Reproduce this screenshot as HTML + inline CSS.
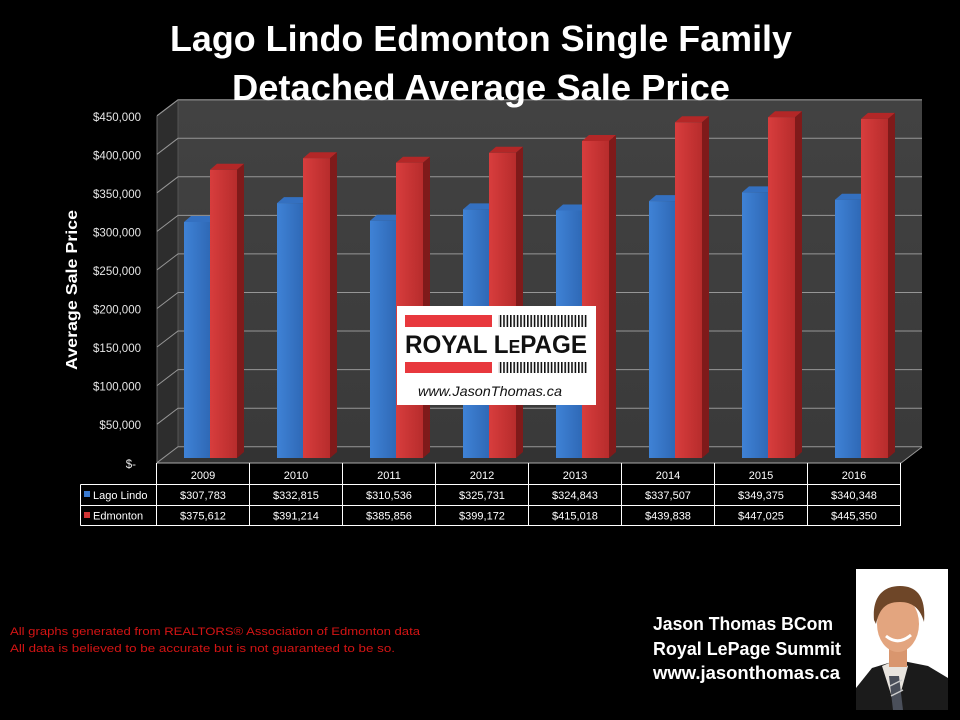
<!DOCTYPE html>
<html><head><meta charset="utf-8"><style>
html,body{margin:0;padding:0;background:#000;}
svg{display:block;}
</style></head><body>
<svg width="960" height="720" viewBox="0 0 960 720" xmlns="http://www.w3.org/2000/svg" font-family="Liberation Sans, sans-serif">
<defs>
<linearGradient id="bf" x1="0" x2="1" y1="0" y2="0"><stop offset="0" stop-color="#3f82d6"/><stop offset="1" stop-color="#2f69b6"/></linearGradient>
<linearGradient id="rf" x1="0" x2="1" y1="0" y2="0"><stop offset="0" stop-color="#d83d3d"/><stop offset="1" stop-color="#b72c2c"/></linearGradient>
<linearGradient id="wall" x1="0" x2="0" y1="0" y2="1"><stop offset="0" stop-color="#424242"/><stop offset="1" stop-color="#3a3a3a"/></linearGradient>
<pattern id="bars" width="3.4" height="20" patternUnits="userSpaceOnUse"><rect x="0" y="0" width="1.6" height="20" fill="#111"/></pattern>
</defs>
<rect width="960" height="720" fill="#000"/>

<!-- walls -->
<polygon points="178,100 922,100 922,447 178,447" fill="url(#wall)"/>
<polygon points="157,116 178,100 178,447 157,463" fill="#2d2d2d"/>
<polygon points="157,463 178,447 922,447 901,463" fill="#333"/>
<line x1="178" y1="100" x2="922" y2="100" stroke="#777" stroke-width="1"/>
<line x1="157" y1="116" x2="178" y2="100" stroke="#777" stroke-width="1"/>
<line x1="178" y1="100" x2="178" y2="447" stroke="#555" stroke-width="1"/>
<line x1="157" y1="116" x2="157" y2="463" stroke="#666" stroke-width="1"/>

<!-- gridlines -->
<g stroke="#969696" stroke-width="1" fill="none">
<polyline points="157,462.7 178,446.7 922,446.7"/>
<polyline points="157,424.2 178,408.2 922,408.2"/>
<polyline points="157,385.6 178,369.6 922,369.6"/>
<polyline points="157,347.0 178,331.0 922,331.0"/>
<polyline points="157,308.5 178,292.5 922,292.5"/>
<polyline points="157,269.9 178,253.9 922,253.9"/>
<polyline points="157,231.4 178,215.4 922,215.4"/>
<polyline points="157,192.8 178,176.8 922,176.8"/>
<polyline points="157,154.3 178,138.3 922,138.3"/>
<polyline points="157,115.7 178,99.7 922,99.7"/>
</g>
<line x1="157" y1="463" x2="901" y2="463" stroke="#aaa" stroke-width="1"/>
<line x1="901" y1="463" x2="922" y2="447" stroke="#999" stroke-width="1"/>

<!-- y labels -->
<g fill="#e6e6e6" font-size="11.5" text-anchor="end">
<text x="141" y="121">$450,000</text>
<text x="141" y="159.5">$400,000</text>
<text x="141" y="198">$350,000</text>
<text x="141" y="236.5">$300,000</text>
<text x="141" y="275">$250,000</text>
<text x="141" y="313.5">$200,000</text>
<text x="141" y="352">$150,000</text>
<text x="141" y="390.5">$100,000</text>
<text x="141" y="429">$50,000</text>
<text x="136" y="468">$-</text>
</g>
<text transform="translate(77,290) rotate(-90)" fill="#fff" font-size="16" font-weight="bold" text-anchor="middle" textLength="160" lengthAdjust="spacingAndGlyphs">Average Sale Price</text>

<!-- bars -->
<g>
<polygon points="184,222 191,216 217,216 210,222" fill="#3470c0"/><rect x="184" y="222" width="26" height="236" fill="url(#bf)"/>
<polygon points="210,169.8 217,163.8 244,163.8 237,169.8" fill="#b32727"/><polygon points="237,169.8 244,163.8 244,452 237,458" fill="#7f1a1a"/><rect x="210" y="169.8" width="27" height="288.2" fill="url(#rf)"/>
<polygon points="277,203.1 284,197.1 310,197.1 303,203.1" fill="#3470c0"/><rect x="277" y="203.1" width="26" height="254.9" fill="url(#bf)"/>
<polygon points="303,158.2 310,152.2 337,152.2 330,158.2" fill="#b32727"/><polygon points="330,158.2 337,152.2 337,452 330,458" fill="#7f1a1a"/><rect x="303" y="158.2" width="27" height="299.8" fill="url(#rf)"/>
<polygon points="370,220.7 377,214.7 403,214.7 396,220.7" fill="#3470c0"/><rect x="370" y="220.7" width="26" height="237.3" fill="url(#bf)"/>
<polygon points="396,162.7 403,156.7 430,156.7 423,162.7" fill="#b32727"/><polygon points="423,162.7 430,156.7 430,452 423,458" fill="#7f1a1a"/><rect x="396" y="162.7" width="27" height="295.3" fill="url(#rf)"/>
<polygon points="463,209.4 470,203.4 496,203.4 489,209.4" fill="#3470c0"/><rect x="463" y="209.4" width="26" height="248.6" fill="url(#bf)"/>
<polygon points="489,152.8 496,146.8 523,146.8 516,152.8" fill="#b32727"/><polygon points="516,152.8 523,146.8 523,452 516,458" fill="#7f1a1a"/><rect x="489" y="152.8" width="27" height="305.2" fill="url(#rf)"/>
<polygon points="556,210.5 563,204.5 589,204.5 582,210.5" fill="#3470c0"/><rect x="556" y="210.5" width="26" height="247.5" fill="url(#bf)"/>
<polygon points="582,141 589,135 616,135 609,141" fill="#b32727"/><polygon points="609,141 616,135 616,452 609,458" fill="#7f1a1a"/><rect x="582" y="141" width="27" height="317" fill="url(#rf)"/>
<polygon points="649,201.1 656,195.1 682,195.1 675,201.1" fill="#3470c0"/><rect x="649" y="201.1" width="26" height="256.9" fill="url(#bf)"/>
<polygon points="675,122.3 682,116.3 709,116.3 702,122.3" fill="#b32727"/><polygon points="702,122.3 709,116.3 709,452 702,458" fill="#7f1a1a"/><rect x="675" y="122.3" width="27" height="335.7" fill="url(#rf)"/>
<polygon points="742,192.4 749,186.4 775,186.4 768,192.4" fill="#3470c0"/><rect x="742" y="192.4" width="26" height="265.6" fill="url(#bf)"/>
<polygon points="768,117.2 775,111.2 802,111.2 795,117.2" fill="#b32727"/><polygon points="795,117.2 802,111.2 802,452 795,458" fill="#7f1a1a"/><rect x="768" y="117.2" width="27" height="340.8" fill="url(#rf)"/>
<polygon points="835,199.7 842,193.7 868,193.7 861,199.7" fill="#3470c0"/><rect x="835" y="199.7" width="26" height="258.3" fill="url(#bf)"/>
<polygon points="861,118.9 868,112.9 895,112.9 888,118.9" fill="#b32727"/><polygon points="888,118.9 895,112.9 895,452 888,458" fill="#7f1a1a"/><rect x="861" y="118.9" width="27" height="339.1" fill="url(#rf)"/>
</g>

<!-- logo -->
<rect x="397" y="306" width="199" height="99" fill="#fff"/>
<rect x="405" y="315" width="87" height="12" fill="#e8383d"/>
<rect x="498" y="315" width="90" height="12" fill="url(#bars)"/>
<text x="405" y="353" font-size="25" font-weight="bold" fill="#111" textLength="182" lengthAdjust="spacingAndGlyphs">ROYAL L<tspan font-size="18">E</tspan>PAGE</text>
<rect x="405" y="362" width="87" height="11" fill="#e8383d"/>
<rect x="498" y="362" width="90" height="11" fill="url(#bars)"/>
<text x="418" y="396" font-size="14" font-style="italic" fill="#111" textLength="144" lengthAdjust="spacingAndGlyphs">www.JasonThomas.ca</text>

<!-- table -->
<g stroke="#fff" stroke-width="1" fill="none">
<line x1="156.5" y1="463" x2="156.5" y2="526"/>
<line x1="249.5" y1="463" x2="249.5" y2="526"/>
<line x1="342.5" y1="463" x2="342.5" y2="526"/>
<line x1="435.5" y1="463" x2="435.5" y2="526"/>
<line x1="528.5" y1="463" x2="528.5" y2="526"/>
<line x1="621.5" y1="463" x2="621.5" y2="526"/>
<line x1="714.5" y1="463" x2="714.5" y2="526"/>
<line x1="807.5" y1="463" x2="807.5" y2="526"/>
<line x1="900.5" y1="463" x2="900.5" y2="526"/>
<line x1="80.5" y1="484.5" x2="900.5" y2="484.5"/>
<line x1="80.5" y1="505.5" x2="900.5" y2="505.5"/>
<line x1="80.5" y1="525.5" x2="900.5" y2="525.5"/>
<line x1="80.5" y1="484.5" x2="80.5" y2="525.5"/>
</g>
<g fill="#fff" font-size="11" text-anchor="middle">
<text x="203" y="479">2009</text><text x="296" y="479">2010</text><text x="389" y="479">2011</text><text x="482" y="479">2012</text>
<text x="575" y="479">2013</text><text x="668" y="479">2014</text><text x="761" y="479">2015</text><text x="854" y="479">2016</text>
<text x="203" y="499">$307,783</text><text x="296" y="499">$332,815</text><text x="389" y="499">$310,536</text><text x="482" y="499">$325,731</text>
<text x="575" y="499">$324,843</text><text x="668" y="499">$337,507</text><text x="761" y="499">$349,375</text><text x="854" y="499">$340,348</text>
<text x="203" y="519.5">$375,612</text><text x="296" y="519.5">$391,214</text><text x="389" y="519.5">$385,856</text><text x="482" y="519.5">$399,172</text>
<text x="575" y="519.5">$415,018</text><text x="668" y="519.5">$439,838</text><text x="761" y="519.5">$447,025</text><text x="854" y="519.5">$445,350</text>
</g>
<rect x="84" y="491" width="6" height="6" fill="#3a7ad0"/>
<rect x="84" y="512" width="6" height="6" fill="#d03535"/>
<text x="93" y="499" fill="#fff" font-size="11">Lago Lindo</text>
<text x="93" y="519.5" fill="#fff" font-size="11">Edmonton</text>

<!-- disclaimer -->
<text x="10" y="635" fill="#d41414" font-size="11" textLength="410" lengthAdjust="spacingAndGlyphs">All graphs generated from REALTORS® Association of Edmonton data</text>
<text x="10" y="652" fill="#d41414" font-size="11" textLength="385" lengthAdjust="spacingAndGlyphs">All data is believed to be accurate but is not guaranteed to be so.</text>

<!-- signature -->
<text x="653" y="630" fill="#fff" font-size="18" font-weight="bold" textLength="180" lengthAdjust="spacingAndGlyphs">Jason Thomas BCom</text>
<text x="653" y="655" fill="#fff" font-size="18" font-weight="bold" textLength="188" lengthAdjust="spacingAndGlyphs">Royal LePage Summit</text>
<text x="653" y="679" fill="#fff" font-size="18" font-weight="bold" textLength="187" lengthAdjust="spacingAndGlyphs">www.jasonthomas.ca</text>

<!-- photo -->
<rect x="856" y="569" width="92" height="141" fill="#fff"/>
<polygon points="856,710 856,688 872,668 898,660 928,666 948,678 948,710" fill="#1b1b1b"/>
<polygon points="882,666 896,710 908,666 896,660" fill="#e8e4de"/>
<polygon points="889,676 893,710 903,710 899,676" fill="#4a4f5a"/>
<line x1="890" y1="686" x2="902" y2="680" stroke="#ccc" stroke-width="1.5"/>
<line x1="891" y1="696" x2="903" y2="690" stroke="#ccc" stroke-width="1.5"/>
<rect x="889" y="645" width="18" height="22" fill="#d9966e"/>
<ellipse cx="898" cy="624" rx="21" ry="28" fill="#e3a57f"/>
<path d="M874,620 C872,596 884,586 900,586 C918,586 926,598 924,622 C920,608 912,602 900,602 C888,602 880,606 876,624 Z" fill="#6e4628"/>
<path d="M886,636 Q898,646 911,635" stroke="#fff" stroke-width="3" fill="none"/>

<!-- title (on top) -->
<text x="481" y="51" fill="#fff" font-size="36" font-weight="bold" text-anchor="middle" textLength="622" lengthAdjust="spacingAndGlyphs">Lago Lindo Edmonton Single Family</text>
<text x="481" y="100" fill="#fff" font-size="36" font-weight="bold" text-anchor="middle" textLength="498" lengthAdjust="spacingAndGlyphs">Detached Average Sale Price</text>
</svg>
</body></html>
